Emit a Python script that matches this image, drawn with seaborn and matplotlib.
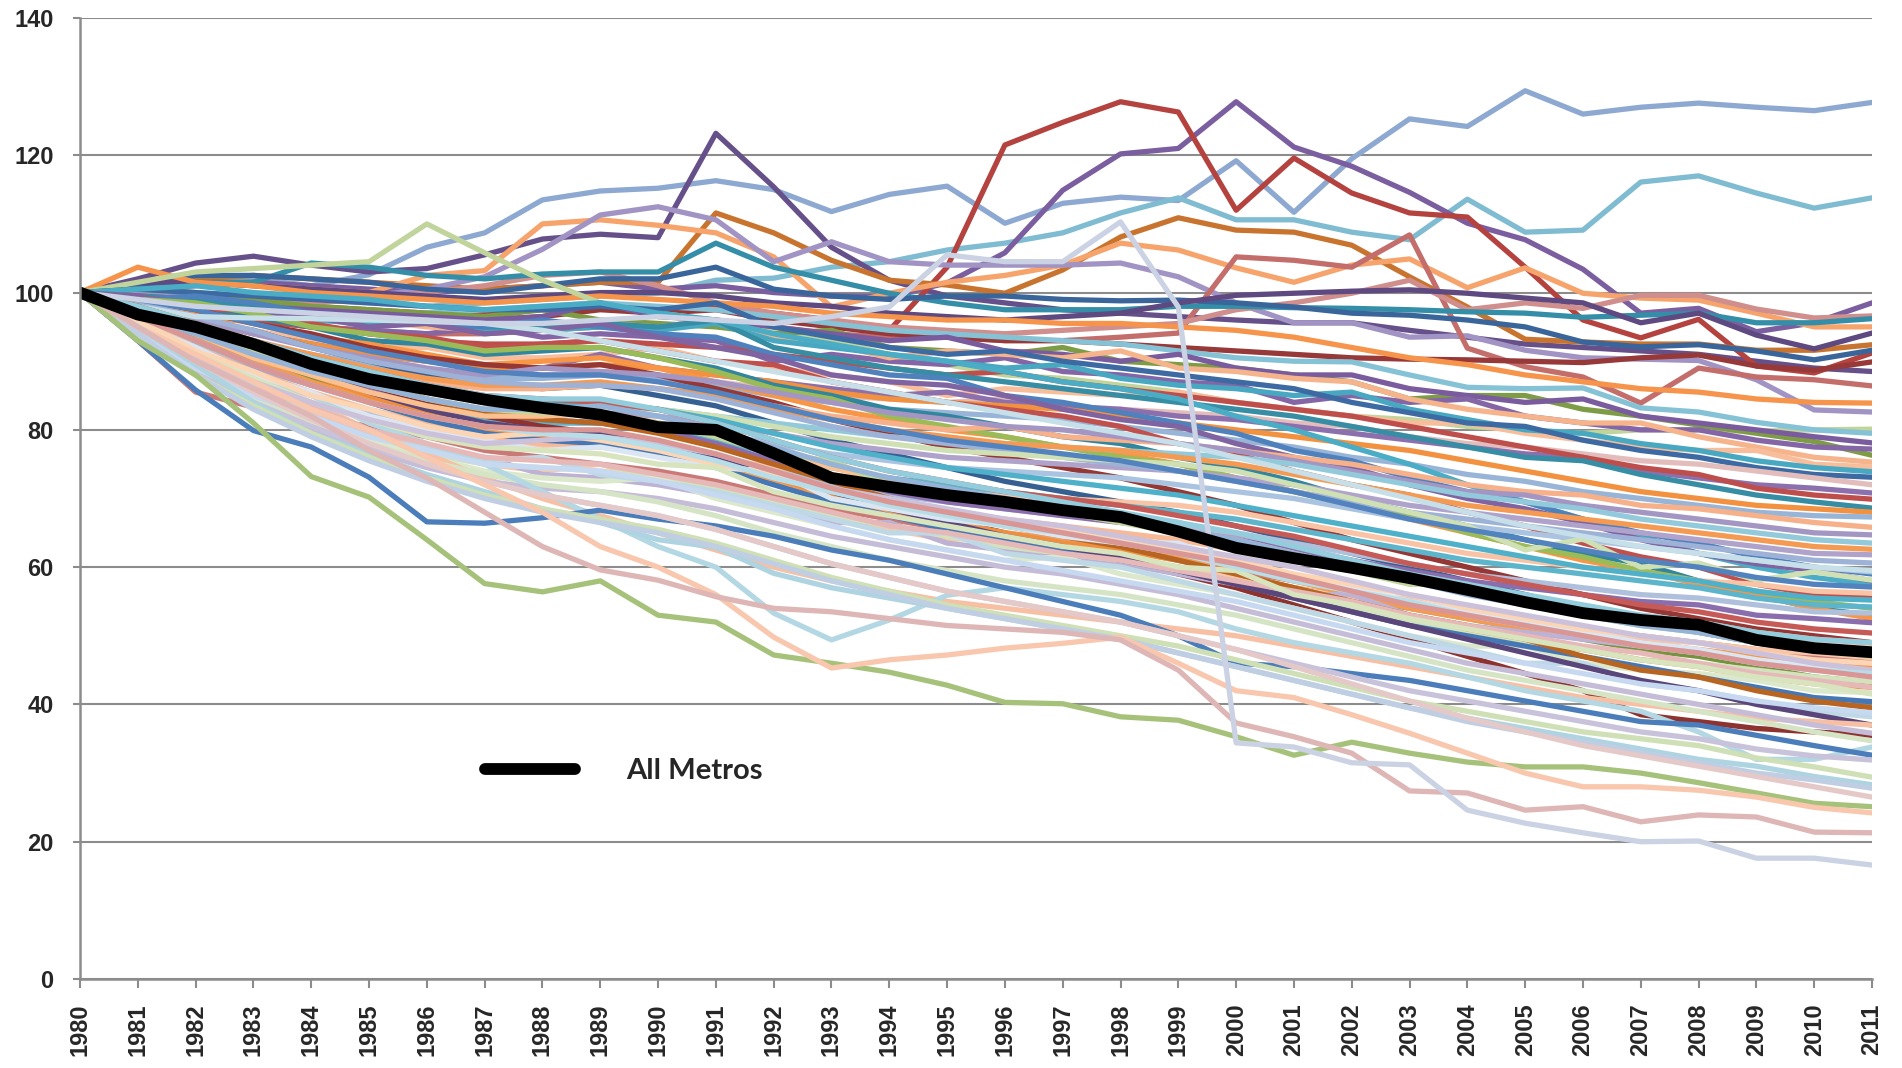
import matplotlib
matplotlib.use("Agg")
import matplotlib.pyplot as plt
from matplotlib.lines import Line2D
import pandas as pd
import seaborn as sns

years = list(range(1980, 2012))

# Index (1980 = 100) for the average across all metros
all_metros = [100, 96.8, 95, 92.5, 89.6, 87.4, 85.9, 84.4, 83.2, 82.2,
              80.4, 80, 76.6, 73, 71.7, 70.5, 69.5, 68.3, 67.3, 65.2,
              62.8, 61.3, 59.9, 58.4, 56.7, 54.9, 53.3, 52.3, 51.6, 49.4,
              48.2, 47.6]

# Individual metros, grouped by where they finish in 2011
upper_tier = [
    [100, 101.5, 102, 102, 101, 102.6, 106.6, 108.7, 113.5, 114.8, 115.2, 116.3, 115, 111.8, 114.3, 115.5, 110.1, 113, 113.9, 113.4, 119.2, 111.7, 119.5, 125.3, 124.2, 129.4, 126, 127, 127.6, 127, 126.5, 127.7],
    [100, 100.5, 100, 99.5, 99, 98.5, 98, 98.5, 99, 99.5, 99.9, 101.8, 102.1, 103.7, 104.5, 106.2, 107.2, 108.7, 111.6, 113.8, 110.6, 110.6, 108.8, 107.7, 113.6, 108.8, 109.1, 116.1, 117, 114.5, 112.3, 113.8],
    [100, 102, 104.3, 105.3, 104, 103, 103.5, 105.5, 107.8, 108.5, 108, 123.2, 115.4, 106.6, 101.8, 99.5, 98.5, 97.5, 97, 96.5, 96, 95.6, 95.6, 94.5, 93.5, 92.5, 92, 91.5, 91, 90, 89, 88.5],
    [100, 100.5, 101, 101.5, 101, 100.5, 100, 100.5, 101, 101.5, 100.5, 101, 100, 99.5, 99.4, 101.4, 105.8, 114.9, 120.2, 121, 127.8, 121.2, 118.4, 114.6, 110.1, 107.7, 103.4, 97, 97.7, 94.3, 95.6, 98.5],
    [100, 99.5, 99, 98.5, 98, 97.5, 97, 97, 97.5, 98, 97.5, 98, 97, 96, 94.5, 103.7, 121.5, 124.8, 127.8, 126.3, 112, 119.6, 114.5, 111.6, 111, 103.7, 96, 93.4, 96.1, 89.3, 88.3, 91.2],
    [100, 101, 102, 102.5, 102, 101.5, 101, 100.5, 101, 101.5, 101.5, 111.6, 108.7, 104.7, 101.8, 101.1, 99.9, 103.3, 108.1, 110.9, 109.1, 108.8, 106.9, 102.3, 97.9, 93.2, 92.8, 92.5, 92.5, 91.6, 91.6, 92.4],
    [100, 101, 101.5, 101, 100.5, 100, 102.5, 103.2, 110, 110.6, 109.8, 108.7, 105.2, 97.9, 99.9, 101.5, 102.5, 104, 107.2, 106.2, 103.6, 101.5, 104, 104.9, 100.7, 103.6, 99.9, 99.2, 98.9, 97, 95, 95],
    [100, 100, 99.5, 99, 99, 99.5, 100.5, 102.3, 106.3, 111.3, 112.5, 110.6, 104.5, 107.4, 104.5, 104, 104, 104, 104.3, 102.3, 98.5, 95.6, 95.6, 93.5, 93.7, 91.6, 90.5, 90.3, 90.1, 87.3, 82.9, 82.6],
    [100, 98, 96, 96, 95, 94.5, 94, 94, 94.5, 95, 95, 96, 95, 94, 93.5, 93.5, 93, 93, 93.5, 94.1, 105.2, 104.7, 103.7, 108.4, 91.9, 89.2, 87.7, 83.9, 89, 87.7, 87.3, 86.4],
    [100, 99.5, 99, 98.5, 98.5, 99, 100, 101, 102.5, 103, 101, 98.5, 97, 96, 95, 94.5, 94, 94.5, 95, 95.5, 97.5, 98.5, 99.9, 101.8, 97.5, 98.5, 97.7, 99.6, 99.6, 97.6, 96.3, 96.6],
    [100, 101, 101.5, 101.5, 104.3, 103.7, 102.5, 102, 102.7, 103, 103, 107.2, 103.7, 101.8, 99.9, 98.5, 97.5, 97.5, 97.5, 98, 98, 97.8, 97.7, 97.5, 97.2, 97, 96.4, 96.7, 97, 95.6, 95.6, 96.2],
    [100, 101, 102.5, 102.5, 102, 101.5, 100.5, 100, 101, 102, 102, 103.7, 100.5, 99.5, 99, 99.5, 99.5, 99, 98.8, 98.9, 98.5, 97.9, 97, 96.7, 96, 95, 92.8, 92.1, 92.4, 91.5, 90.2, 91.6],
    [100, 101.5, 101.5, 101, 100.5, 100, 99.5, 99, 99.5, 100, 100, 99.5, 98.5, 98, 97, 96.5, 96, 96.5, 97, 98.5, 99.6, 99.9, 100.2, 100.4, 99.9, 99.2, 98.5, 95.6, 97, 93.8, 91.8, 94.1],
    [100, 99, 98, 97.5, 97, 96.5, 96, 96, 96.5, 97.5, 97, 97.5, 96, 95, 94, 93.5, 93, 93, 92.5, 92, 91.5, 91, 90.5, 90.3, 90.2, 90, 89.8, 90.5, 90.9, 89.3, 88.7, 89.9],
    [100, 103.7, 101.5, 101, 100, 99.5, 99, 98.5, 99, 99.5, 99, 98.5, 98, 97, 96.5, 96, 96, 95.5, 95.5, 95, 94.5, 93.5, 92, 90.5, 89.5, 88, 87, 86, 85.5, 84.5, 84, 83.9],
    [100, 101.5, 103, 103.5, 104, 104.5, 110, 105.8, 101.8, 98.5, 97, 96, 94.5, 93, 91, 89.5, 88, 87.5, 86.5, 85.5, 84, 83, 82, 81.5, 80.5, 80, 79.5, 80, 80, 79.8, 80, 80.1],
]
upper_colors = ["#8DA8D1", "#7FBCD1", "#66508A", "#7A5E9F", "#B4423F", "#C8742E",
                "#F6A46C", "#A193C3", "#C46E6C", "#D08F8D", "#348EA7", "#3A659B",
                "#5E4980", "#963938", "#F5944A", "#C0D49C"]

upper_mid_tier = [
    [100, 99, 98.5, 98, 97.5, 97, 97, 97.5, 98, 98.5, 98, 97.5, 96.5, 95.5, 94.5, 94, 93.5, 93, 92.5, 91.5, 90.5, 90, 89.9, 88, 86.2, 86, 86.1, 83.2, 82.6, 81.1, 80, 79.5],
    [100, 100.5, 100, 99, 98, 97.5, 97, 96.5, 97.5, 96, 95.5, 95, 94, 94.5, 92, 91.5, 91, 92, 90, 89.5, 89, 88, 87, 84.5, 85, 85, 83, 82, 80.7, 79.5, 78.3, 76.3],
    [100, 99.5, 99, 98, 97.5, 97, 96.5, 96, 96.5, 98.5, 96.5, 96, 95, 94, 93, 93.5, 91.5, 91, 90, 91, 89, 88, 88, 86, 85, 84, 84.5, 82, 81, 80, 79, 78.1],
    [100, 98.5, 97, 96, 95, 94.5, 94, 95, 93.5, 94, 93.5, 93, 90, 91, 90, 89.5, 90.5, 88.5, 88, 87, 86.5, 84, 85, 84, 84.5, 82, 81, 80, 80, 78.5, 77.5, 77.2],
    [100, 99, 98, 97, 96.5, 96, 95, 94.5, 95, 95.5, 95, 96, 93.5, 92.5, 90.5, 91.5, 91, 90.5, 91.5, 89, 88.5, 87.5, 87, 84.5, 83, 82, 81, 81, 79, 77.5, 76, 75.3],
    [100, 98, 96, 94.5, 93, 92, 92, 90.5, 90.5, 91, 92, 90, 89, 88, 87, 85, 86, 85.5, 85, 85.5, 84, 83, 82, 81, 81, 79.5, 78.5, 77.5, 77, 77, 75, 74.6],
    [100, 99, 98, 97, 96, 95.5, 96, 94.5, 94.5, 95, 94.5, 95.5, 93, 92, 91, 90, 89, 89.5, 87.5, 86.5, 86, 85, 85.5, 83, 81.5, 80, 79.5, 78, 77, 75.5, 74.5, 73.9],
    [100, 100.5, 100, 99.5, 99, 98.5, 98, 97.5, 97.5, 98, 97.5, 98.5, 95, 93.5, 92, 91, 91.5, 90, 89, 88, 87, 86, 84, 82.5, 81, 80.5, 78.5, 77, 76, 74.5, 73.5, 73.1],
    [100, 97, 94, 92, 90.5, 89, 88, 87.5, 88, 88.5, 88, 87, 86, 85, 84.5, 84, 84.5, 83, 83, 82.5, 82, 81, 80.5, 79, 78, 77.5, 76.5, 75.5, 75, 74, 73, 72],
    [100, 98, 96, 94, 92.5, 91, 90, 89, 89, 91, 89, 88, 87, 86, 85, 85.5, 84, 83.5, 83, 82, 81.5, 80.5, 79.5, 78.5, 77.5, 76.5, 76, 74, 73, 72, 71.5, 70.8],
    [100, 99, 97.5, 96, 95, 94, 93, 92.5, 92.5, 93, 92.5, 92, 91, 90, 89, 88, 88.5, 87, 86, 85, 84, 83, 82, 80.5, 79, 77.5, 76, 74.5, 73.5, 71.5, 70.5, 69.9],
    [100, 99.5, 99, 98, 97, 96, 95.5, 95, 95, 95.5, 95, 96, 92, 90.5, 89, 88, 87, 86, 85, 84, 83, 82, 80.5, 79, 77.5, 76, 75.5, 73.5, 72, 70.5, 69.5, 68.6],
    [100, 98, 96, 94, 92.5, 91, 90, 89, 89, 89.5, 89, 88, 87, 85.5, 84.5, 84, 83.5, 83, 82, 81, 80, 79, 78, 77, 75.5, 74, 72.5, 71, 70, 69, 68.5, 68],
    [100, 97, 94.5, 92.5, 91, 89.5, 88.5, 87.5, 87.5, 88, 87.5, 86.5, 85, 84, 83, 82.5, 82, 81.5, 80.5, 79.5, 78.5, 77.5, 76, 75, 73.5, 72.5, 71, 70, 69, 68, 67.5, 67.3],
]
upper_mid_colors = ["#86C2D5", "#7E9C46", "#7A5C9E", "#8466A6", "#F5B48C", "#F8BE9C",
                    "#48A8C2", "#3D6AA2", "#E2BDBC", "#8C70AE", "#BE4E4B", "#378DA4",
                    "#F2913F", "#98B5D8"]

# Metros that hold near 100 through the 1980s and fall later
late_decliners = [
    [100, 100.5, 101, 100, 99.5, 99, 98, 97.5, 98, 98.5, 97, 96, 94, 92.5, 91, 90, 88.5, 87, 86, 84.5, 82, 80, 77.5, 75, 72, 69.5, 67, 64.5, 62, 60, 58.5, 57.5],
    [100, 99, 99.5, 98.5, 97, 96.5, 95.5, 95, 96, 95, 94, 93.5, 91, 89.5, 88, 87.5, 85, 84, 82.5, 81, 79.5, 77, 75.5, 73, 71, 69.5, 67, 65, 63.5, 61.5, 60, 59],
    [100, 99.5, 98, 97, 96.5, 95, 95.5, 94, 94.5, 95.5, 93.5, 92, 90.5, 88, 87, 86.5, 85, 83, 81.5, 80.5, 78, 76, 74.5, 72, 70, 68.5, 66.5, 64, 62, 60.5, 59.5, 58],
    [100, 98.5, 98, 96, 95.5, 94, 93.5, 92, 92.5, 93, 91.5, 90, 89.5, 87, 85.5, 84, 83, 82, 80.5, 78, 76.5, 74, 72, 70.5, 68, 66, 63.5, 61.5, 60, 57.5, 56, 55.5],
    [100, 99, 97, 96.5, 95, 93, 92.5, 91, 91.5, 92, 90.5, 89, 86.5, 85, 83, 82, 80.5, 79, 78, 76, 74.5, 72.5, 70, 68, 66, 64, 62, 60.5, 58, 56, 54, 53],
    [100, 98, 97, 95.5, 93.5, 92.5, 91, 89.5, 90, 90.5, 89, 87, 85, 83, 81.5, 80, 79, 77.5, 76.5, 75, 73, 71, 69.5, 67, 65, 63, 61, 59.5, 57.5, 56, 54, 52.5],
    [100, 99, 98.5, 97, 95, 94, 93, 91.5, 92, 92, 90.5, 88.5, 86, 84.5, 82, 80.5, 79, 77.5, 76, 75, 73, 71, 69, 67.5, 65, 63, 61.5, 59.5, 58, 56.5, 55, 54],
    [100, 99, 97.5, 95.5, 94, 92, 90.5, 89.5, 89, 89.5, 88, 86, 84, 81.5, 79.5, 77.5, 76, 74.5, 73, 71, 69, 66.5, 64, 62, 60, 58, 56, 54, 52.5, 51, 50, 49],
    [100, 96, 93.5, 90, 88, 86, 84.5, 83, 82.5, 82.5, 81, 79.5, 77, 74.5, 73, 71.5, 70, 69, 67.5, 66.5, 64.5, 63, 61, 59, 57, 55.5, 54, 52.5, 51, 49.5, 48.5, 47.5],
    [100, 98, 96, 94.5, 92, 90, 88, 86.5, 86, 86.5, 85, 83.5, 81, 78.5, 76.5, 74.5, 72.5, 71, 69.5, 68, 66, 64, 62, 60, 58, 56, 54, 52, 50.5, 49, 47.5, 46],
]
late_colors = ["#4BACC6", "#4F81BD", "#8064A2", "#C0504D", "#31859C", "#F79646",
               "#9BBB59", "#953735", "#B3A2C7", "#376092"]

mid_tier = [
    [100, 97, 94, 91.5, 89.5, 88, 87, 86, 86, 86.5, 86, 85, 83.5, 82, 81, 80, 80.5, 79, 78.5, 78, 77, 76, 75, 73.5, 72, 71, 70.5, 69, 68.5, 67.5, 66.5, 65.8],
    [100, 98, 96, 94, 92, 90.5, 89, 88, 89, 88.5, 88, 87, 85.5, 84, 82.5, 81.5, 80.5, 80, 79, 78, 77, 75.5, 74, 72.5, 71, 70.5, 69, 68, 67, 66, 65, 64.7],
    [100, 96.5, 93, 90, 87.5, 85.5, 84, 83, 83, 83.5, 83, 82, 81, 80, 79, 78.5, 78, 77.5, 77, 76.5, 76, 75, 73.5, 72, 70.5, 69.5, 68.5, 67, 66, 65, 64, 63.5],
    [100, 98, 95.5, 93, 91, 89, 87.5, 86.5, 86.5, 87, 86, 85, 83, 81.5, 80, 79, 78, 77.5, 77, 76, 75, 73.5, 72, 70.5, 69, 68, 67, 66, 65, 64, 63, 62.6],
    [100, 96, 92, 89, 86.5, 84.5, 83, 82, 82, 82.5, 82, 81, 79.5, 78, 77, 76, 75.5, 75, 74.5, 74, 73, 72, 70.5, 69, 68, 67, 66, 65, 64, 63, 62, 61.8],
    [100, 98.5, 96.5, 94.5, 92, 90, 88.5, 87, 86.5, 86.5, 86, 84.5, 82.5, 80.5, 79, 78, 77, 76, 75, 74, 72.5, 71, 69.5, 68, 67, 66, 65, 64, 63, 62, 61, 60.6],
    [100, 96, 92.5, 89.5, 87, 85, 83, 81.5, 81, 81, 80.5, 79.5, 78, 76.5, 75.5, 74.5, 74, 73.5, 73, 72, 71, 70, 68.5, 67, 66, 65, 64, 63, 62, 61, 60, 59.3],
    [100, 97, 94, 91, 88, 86, 84, 83, 83, 83.5, 83, 82, 80.5, 79, 78, 77, 76.5, 76, 75.5, 75, 74, 72, 70, 68, 66, 62.5, 64.1, 60, 60.6, 58.1, 59.3, 58.1],
    [100, 99, 97.5, 95.5, 93.5, 91.5, 90, 88.5, 88, 88, 87, 85.5, 83.5, 81.5, 80, 78.5, 77.5, 76.5, 75.5, 74, 72.5, 71, 69, 67, 65.5, 64, 62.5, 61, 60, 58.5, 57.5, 57.1],
    [100, 95, 90.5, 87, 84, 81.5, 79.5, 78, 77.5, 77.5, 77, 76, 74.5, 73, 72, 71, 70.5, 70, 69.5, 69, 68, 66.5, 65, 63.5, 62, 61, 60, 59, 58, 57.5, 56.5, 56.2],
    [100, 97.5, 95, 92.5, 90, 88, 86, 84.5, 84, 84, 83, 81.5, 79.5, 77.5, 76, 74.5, 73.5, 72.5, 71.5, 70.5, 69, 67.5, 66, 64.5, 63, 61.5, 60, 59, 58, 56.5, 55.5, 55.2],
    [100, 96.5, 93, 90, 87.5, 85, 83, 81.5, 81, 81, 80, 78.5, 76.5, 74.5, 73, 72, 71, 70, 69, 68, 67, 65.5, 64, 62.5, 61, 60, 59, 58, 57, 55.5, 54.5, 54.2],
    [100, 95.5, 91.5, 88, 85, 82.5, 80.5, 79, 78.5, 78.5, 77.5, 76, 74, 72, 70.5, 69.5, 68.5, 67.5, 67, 66, 65, 63.5, 62, 60.5, 59, 58, 57, 56, 55.5, 54.5, 53.5, 53.3],
    [100, 97, 94, 91, 88.5, 86, 84, 82, 81.5, 81, 80, 78, 75.5, 73, 71, 69.5, 68.5, 67.5, 66.5, 65.5, 64, 62.5, 61, 59.5, 58, 57, 56, 55, 54.5, 53, 52.5, 51.9],
    [100, 98, 95.5, 93, 90.5, 88.5, 86.5, 85, 84.5, 84, 83, 81, 78.5, 76, 74, 72.5, 71, 70, 69, 67.5, 66, 64.5, 62.5, 60.5, 59, 57.5, 56, 54.5, 53.5, 52, 51, 50.4],
    [100, 96, 92, 88.5, 85.5, 83, 81, 79, 78, 77.5, 76.5, 75, 73, 71, 69.5, 68, 67, 66, 65, 64, 62.5, 61, 59.5, 58, 56.5, 55, 54, 53, 52, 50.5, 49.5, 48.9],
    [100, 98, 96.5, 96.3, 96.2, 96, 95.8, 95.5, 94.5, 93, 91.5, 90, 88.5, 87, 85.5, 84, 82.5, 81, 79.5, 78, 76, 74, 72, 70, 68, 66, 64.5, 63, 62, 61, 60, 59.5],
]
mid_colors = ["#F6B08A", "#A496C3", "#92CADB", "#F49A52", "#B0A3CB", "#9DB2D6",
              "#A9C3E0", "#CFE0B4", "#5283BF", "#F9C4A6", "#4EB0C9", "#5DB5CC",
              "#AFC0DC", "#8A6DAD", "#C55A57", "#F7B996", "#C6DFE9"]

lower_mid_tier = [
    [100, 98, 95, 92, 89, 86.5, 84, 82, 80.5, 79.5, 78, 76, 73.5, 71, 69, 67, 65, 63, 61, 59, 57, 54.5, 52, 49.5, 47, 44.5, 42, 38.5, 37.5, 36.5, 36, 35.5],
    [100, 97.5, 94, 90.5, 87.5, 85, 82.5, 80.5, 79.5, 79, 78, 76, 73, 70.5, 68.5, 66.5, 64.5, 63, 61.5, 60, 58.5, 57, 55.5, 54, 52.5, 51, 49.5, 48, 47, 45.5, 44, 43.2],
    [100, 93, 85.5, 83.3, 82, 80.5, 79, 77, 76, 75, 74, 72.5, 70.5, 68.5, 67, 65.5, 64.5, 63.5, 62.5, 61, 59.5, 58, 56.5, 55, 53.5, 52, 51, 50, 49, 48, 47, 46.3],
    [100, 95, 90, 86, 82.5, 79.5, 77, 75, 74, 75, 72.5, 71, 69, 67, 65.5, 64, 64.5, 62, 61, 60, 58.5, 57, 55.5, 55.5, 52.5, 51.5, 50.5, 49.5, 49, 48, 47.5, 46.8],
    [100, 97, 93.5, 90, 87, 84.5, 82, 80, 79, 78.5, 77, 75, 72.5, 70, 68, 66.5, 65, 64, 63, 61.5, 60, 58, 56, 54, 52.5, 51, 50, 49, 48, 47, 46, 45.7],
    [100, 94.5, 89.5, 85.5, 82, 79, 76.5, 76, 73.5, 73, 72, 70.5, 68.5, 66.5, 66.5, 63.5, 62.5, 61.5, 60.5, 59, 57.5, 56, 56, 53, 51.5, 50.5, 49.5, 48.5, 47.5, 46, 45, 44.6],
    [100, 93, 88, 84, 81, 78.5, 76.5, 75, 74.5, 74, 73, 71.5, 69.5, 67.5, 66, 64.5, 63, 62, 61, 59.5, 58, 56, 54, 52, 50.5, 49, 48, 46.5, 46, 45, 44, 43.3],
    [100, 98, 95, 91.5, 88, 85, 82.5, 80.5, 79.5, 79, 77.5, 75.5, 73, 70.5, 68.5, 66.5, 65, 63.5, 62.5, 61, 59, 57, 55, 53, 51, 49.5, 48, 46.5, 45.5, 44, 43, 42.5],
    [100, 94, 89, 85, 81.5, 78.5, 76, 74, 73, 72.5, 73, 70, 68, 66, 64, 62.5, 61, 61.5, 59, 57.5, 56, 54, 52, 50, 48.5, 48.5, 46, 45, 44.5, 43.5, 42, 41.7],
    [100, 97, 93, 89.5, 86.5, 84, 81.5, 79.5, 78.5, 78, 76.5, 74.5, 72, 69.5, 67.5, 65.5, 64, 62.5, 61, 59.5, 57.5, 55.5, 53.5, 51.5, 50, 48.5, 47, 45.5, 44, 42.5, 41, 40.4],
    [100, 98, 95.5, 92.5, 89.5, 87, 84.5, 82.5, 81.5, 81, 79.5, 77.5, 75, 72.5, 70, 68, 66, 64.5, 63, 61, 59, 57, 55, 53, 51.5, 49.5, 47, 45, 44, 42, 40.5, 39.5],
    [100, 95.5, 90.5, 86.5, 83, 80, 77.5, 75.5, 76, 73.5, 72.5, 71, 69, 67, 65, 65, 62, 61, 60, 58, 56, 54, 52, 50, 48, 46, 46, 43, 42, 40.5, 39, 38.2],
    [100, 97.5, 94.5, 91.5, 88.5, 85.5, 83, 81, 80, 79.5, 78, 76, 73.5, 71, 68.5, 66.5, 64.5, 63, 61.5, 59.5, 57.5, 55.5, 53.5, 51.5, 49.5, 47.5, 45.5, 43.5, 42, 40, 38.5, 37],
    [100, 96, 92, 88, 84, 80, 76.5, 73, 70, 67.5, 65, 62.5, 60, 58, 56.5, 55, 54, 53, 52, 51, 50, 48.5, 47, 45.5, 44, 42.5, 41, 40, 39, 38, 37.5, 37],
    [100, 93.5, 88, 83.5, 80, 77, 74.5, 72.5, 71.5, 71, 70, 68.5, 66.5, 64.5, 63, 61.5, 60, 59, 57.5, 56, 54, 52, 50, 48, 46, 44.5, 43, 41.5, 40, 38.5, 37, 35.8],
    [100, 94.5, 89, 84.5, 81, 78, 75.5, 73.5, 72, 71, 69.5, 67.5, 65, 63, 61, 59.5, 58, 57, 56, 54.5, 53, 51, 49, 47, 45, 43.5, 42, 40.5, 39, 37.5, 36, 34.7],
    [100, 95, 91, 88, 85, 81, 78, 75, 71, 67, 63, 60, 53.3, 49.4, 52.3, 55.9, 57, 56, 55, 53.5, 51, 49, 47.5, 46, 44, 42, 40.5, 39, 36, 32, 32, 33.8],
    [100, 93, 85.8, 79.9, 77.5, 73.1, 66.6, 66.4, 67.2, 68.3, 67, 66, 64.5, 62.5, 61, 59, 57, 55, 53, 50, 46, 45.5, 44.5, 43.5, 42, 40.5, 39, 37.5, 37, 35.5, 34, 32.6],
    [100, 94, 88.5, 84, 80.5, 77.5, 75, 72.5, 70.5, 69, 67.5, 65.5, 63, 60.5, 58.5, 56.5, 55, 53.5, 52, 50, 48, 46, 44, 42, 40.5, 39, 37.5, 36, 35, 33.5, 32.5, 31.9],
]
lower_mid_colors = ["#8E3230", "#76923C", "#C97A77", "#FAC6AA", "#F39B55", "#BDB2D4",
                    "#D3E2BD", "#EE8E3E", "#DCE8CC", "#4677B5", "#B86521", "#BFD8E6",
                    "#5A467B", "#F7C0A4", "#C5BDD8", "#D6E4C6", "#B3D8E3", "#4A7DBA",
                    "#C8C2DB"]

# Metros that fall early and stay below the average
early_decliners = [
    [100, 95.5, 92, 88, 85.5, 82, 80, 78.5, 77, 77.5, 76, 74.5, 74, 70, 68.5, 67, 66, 64.5, 63.5, 63.5, 60.5, 58.5, 57, 55, 53.5, 52, 50.5, 49, 48, 46.5, 45.5, 44.5],
    [100, 96, 91.5, 88.5, 85, 83, 80.5, 79, 79.5, 78.5, 77, 75, 73.5, 71, 69.5, 68, 66.5, 65.5, 64, 62.5, 61, 59, 57.5, 56, 54, 52.5, 51, 50, 49, 47.5, 46.5, 46],
    [100, 94.5, 90, 86, 83.5, 80, 78, 76, 75.5, 75, 73.5, 72, 70, 68, 66, 65, 63.5, 62, 61, 59.5, 58, 56.5, 55, 53, 51.5, 50, 48.5, 47.5, 46, 44.5, 43.5, 42.5],
    [100, 95, 91, 87.5, 84, 81.5, 79, 77.5, 77, 76.5, 75, 74.5, 71, 69, 67.5, 66, 64.5, 63, 62, 60, 59.5, 56, 54.5, 52.5, 51, 49.5, 48, 46.5, 45.5, 44, 43, 41.5],
    [100, 95, 90.5, 87, 84, 81.5, 79.5, 78, 78.5, 79, 78, 76.5, 74, 71.5, 70, 68.5, 67, 66, 64.5, 63, 61.5, 60, 58, 56, 54.5, 53, 51.5, 50, 49, 47.5, 46, 45],
    [100, 96.5, 93, 89.5, 86.5, 84, 82, 80.5, 79.5, 79, 77.5, 75.5, 73, 71, 69, 67.5, 66, 65, 63.5, 62, 60, 58, 56.5, 55, 53, 51.5, 50, 48.5, 47.5, 46, 45, 44.5],
    [100, 97, 94, 90.5, 88, 85.5, 83.5, 82, 82, 82.5, 81, 79, 77, 74.5, 72.5, 71, 70, 68.5, 67, 65.5, 64, 62, 60, 58, 56.5, 55, 53.5, 52, 50.5, 49.5, 48.5, 48],
    [100, 97.5, 94.5, 91.5, 89, 86.5, 84.5, 83, 82.5, 82.5, 81, 79, 76.5, 75.5, 72, 70.5, 69, 68, 66.5, 65, 63.5, 61.5, 59.5, 57.5, 57.5, 54.5, 53, 51.5, 50.5, 49, 48, 47],
    [100, 98, 95.5, 93, 90.5, 88.5, 86.5, 85, 84.5, 84.5, 83, 81, 78.5, 76, 74, 72.5, 71, 69.5, 68, 66.5, 65, 63, 61, 59, 57.5, 56, 54.5, 53, 52, 50.5, 49.5, 49],
    [100, 96.5, 93, 89.5, 86.5, 84, 82, 80.5, 80, 80, 78.5, 76.5, 74, 71.5, 69.5, 68, 66.5, 65, 63.5, 62, 60.5, 58.5, 56.5, 54.5, 53, 51.5, 50, 48.5, 47.5, 46, 45, 44],
    [100, 97, 94, 91, 88.5, 86.5, 84.5, 83, 83, 83.5, 82, 80, 77.5, 75, 73, 71.5, 70, 68.5, 67, 65.5, 64, 62, 60, 58, 56, 54.5, 53, 51.5, 50.5, 49, 48, 47.3],
    [100, 94, 89, 85, 82, 79, 77, 75, 74.5, 74, 72.5, 70.5, 68.5, 66, 64, 62.5, 61, 59.5, 58, 56.5, 55, 53, 51, 49, 47.5, 46, 44.5, 43, 42, 40.5, 39.5, 38.8],
]
early_colors = ["#DCE6F2", "#FCD5B5", "#E6B9B8", "#D7E4BD", "#CCC1DA", "#B7DEE8",
                "#FAC090", "#C3D69B", "#93CDDD", "#D99694", "#95B3D7", "#C6D9F1"]

lower_tier = [
    [100, 95, 89.5, 84, 79.5, 76.5, 73.5, 71, 68.5, 66.5, 64, 62.9, 59.1, 57, 55.5, 54, 52.5, 51, 49.5, 47.5, 45.5, 43.5, 41.5, 39.5, 38, 36.5, 35, 33.5, 32, 31, 29.5, 28.3],
    [100, 93.5, 88, 83.5, 79.5, 76, 73, 70.5, 68.5, 67, 65.5, 63.5, 61, 58.5, 56.5, 54.5, 53, 51.5, 50, 48.5, 46.5, 44.5, 42.5, 40.5, 39, 37.5, 36, 35, 34, 32.2, 30.9, 29.4],
    [100, 94, 88, 83, 79, 75.5, 72.5, 70, 68, 66.5, 65, 63, 60.5, 58, 56, 54, 52.5, 51, 49.5, 47.5, 45.5, 43.5, 41.5, 39.5, 37.5, 36, 34.5, 33, 31.5, 30, 29, 27.8],
    [100, 95, 90, 85.5, 81.5, 78, 75, 72.5, 70.5, 69, 67.5, 65.5, 63, 60.5, 58.5, 56.5, 55, 53.5, 52, 50, 48, 45.5, 43, 40.5, 38, 36, 34, 32.5, 31, 29.5, 28, 26.5],
    [100, 93, 88, 81, 73.2, 70.2, 64, 57.6, 56.4, 58, 53, 52, 47.2, 46, 44.7, 42.8, 40.3, 40.1, 38.2, 37.7, 35.3, 32.6, 34.5, 32.9, 31.6, 30.9, 30.9, 30, 28.6, 27.1, 25.6, 25.1],
    [100, 95, 91, 87, 83, 80, 76, 72, 68, 63, 60, 56, 49.8, 45.3, 46.5, 47.2, 48.2, 48.9, 49.8, 46, 42, 41, 38.5, 35.8, 32.9, 30, 28, 28, 27.5, 26.5, 25, 24.2],
    [100, 95, 90, 86, 82, 77, 73, 68, 63, 59.6, 58.1, 55.7, 54, 53.5, 52.5, 51.5, 51, 50.5, 49.4, 45, 37.3, 35.3, 32.9, 27.4, 27.1, 24.6, 25.1, 22.9, 23.9, 23.6, 21.4, 21.3],
    [100, 99, 98, 97.5, 97, 96.5, 96, 95.5, 95.5, 96, 96.5, 96, 95.5, 96.5, 97.9, 105.5, 104.5, 104.5, 110.3, 97.9, 34.4, 33.8, 31.5, 31.2, 24.6, 22.7, 21.3, 20, 20.1, 17.6, 17.6, 16.6],
]
lower_colors = ["#ADD4E0", "#CFDFB6", "#C0CEE3", "#E5C9C8", "#A6C27A", "#F8C7AE",
                "#DDB6B5", "#CAD2E4"]

tiers = [(upper_tier, upper_colors), (upper_mid_tier, upper_mid_colors),
         (late_decliners, late_colors), (mid_tier, mid_colors),
         (lower_mid_tier, lower_mid_colors), (early_decliners, early_colors),
         (lower_tier, lower_colors)]

records = []
palette = {}
order = []
n = 0
for series_list, colors in tiers:
    for values, color in zip(series_list, colors):
        assert len(values) == len(years)
        name = f"metro_{n:03d}"
        palette[name] = color
        order.append(name)
        for yr, v in zip(years, values):
            records.append({"year": yr, "index": v, "metro": name})
        n += 1
df = pd.DataFrame(records)
avg = pd.DataFrame({"year": years, "index": all_metros})

sns.set_style("white")
plt.rcParams["font.family"] = ["Liberation Sans", "DejaVu Sans"]

fig = plt.figure(figsize=(19.02, 10.68), dpi=100)
ax = fig.add_axes([80 / 1902, 89 / 1068, 1792 / 1902, 961 / 1068])

grid_color = "#8C8C8C"
ax.set_ylim(0, 140)
ax.set_xlim(1980, 2011)
ax.set_yticks(range(0, 141, 20))
ax.set_xticks(years)
ax.yaxis.grid(True, color=grid_color, linewidth=1.5, zorder=0)
ax.xaxis.grid(False)
ax.set_axisbelow(True)

sns.lineplot(data=df, x="year", y="index", hue="metro", hue_order=order,
             palette=palette, legend=False, linewidth=3.8, estimator=None,
             sort=False, ax=ax)
sns.lineplot(data=avg, x="year", y="index", color="black", linewidth=8.5,
             estimator=None, ax=ax, zorder=10)

for side in ("top", "right"):
    ax.spines[side].set_visible(False)
for side in ("left", "bottom"):
    ax.spines[side].set_color(grid_color)
    ax.spines[side].set_linewidth(1.8)
    ax.spines[side].set_zorder(11)

ax.set_xlabel("")
ax.set_ylabel("")
ax.tick_params(axis="y", length=5, width=1.5, color=grid_color, pad=14,
               labelsize=17, left=True)
ax.tick_params(axis="x", length=6.5, width=1.5, color=grid_color, pad=11,
               labelsize=17, bottom=True, labelrotation=90)
for lab in ax.get_yticklabels() + ax.get_xticklabels():
    lab.set_fontweight("bold")
for lab in ax.get_xticklabels():
    lab.set_verticalalignment("top")

handle = Line2D([], [], color="black", linewidth=8.5)
leg = ax.legend([handle], ["All Metros"], loc="center left",
                bbox_to_anchor=(0.226, 0.2164), frameon=False,
                borderpad=0, borderaxespad=0, handlelength=3.1,
                handletextpad=1.75,
                prop={"family": ["Lato", "DejaVu Sans"], "weight": "bold", "size": 21})

fig.savefig("out.png", dpi=100)
